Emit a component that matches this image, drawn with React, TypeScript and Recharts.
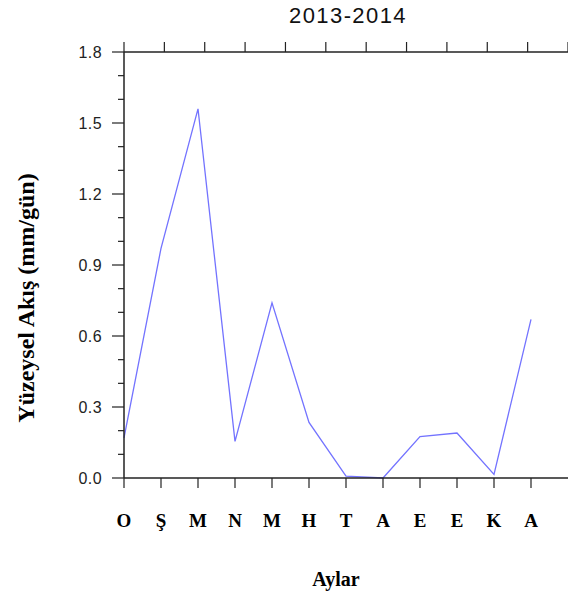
import { Label, Line, LineChart, XAxis, YAxis } from 'recharts';

// months Ekim..Eylül (2013-2014 water year)
const months = ['O', 'Ş', 'M', 'N', 'M', 'H', 'T', 'A', 'E', 'E', 'K', 'A'];
const runoff = [0.17, 0.97, 1.56, 0.155, 0.74, 0.235, 0.008, 0.0, 0.175, 0.19, 0.015, 0.67];
const monthTicks = [0, 1, 2, 3, 4, 5, 6, 7, 8, 9, 10, 11];
const yTicks = [0, 0.1, 0.2, 0.3, 0.4, 0.5, 0.6, 0.7, 0.8, 0.9, 1.0, 1.1, 1.2, 1.3, 1.4, 1.5, 1.6, 1.7, 1.8];

const AXIS = '#222';
const SANS = '"Liberation Sans", Arial, sans-serif';
const SERIF = '"Liberation Serif", "Times New Roman", serif';

const data = months.map((m, i) => ({ i, m, v: runoff[i] }));

function LeftTick({ x, y, payload }: any) {
  const v = payload.value as number;
  const major = Math.round(v * 10) % 3 === 0;
  return (
    <g>
      <line x1={x - (major ? 12 : 6)} x2={x} y1={y} y2={y} stroke={AXIS} strokeWidth={1.2} />
      {major && (
        <text x={x - 22} y={y} textAnchor="end" dominantBaseline="central" fontFamily={SANS} fontSize={16} letterSpacing={0.4} fill="#222">
          {v.toFixed(1)}
        </text>
      )}
    </g>
  );
}

function BottomTick({ x, y, payload }: any) {
  return (
    <g>
      <line x1={x} x2={x} y1={y} y2={y + 10} stroke={AXIS} strokeWidth={1.2} />
      <text x={x} y={y + 49} textAnchor="middle" fontFamily={SERIF} fontWeight="bold" fontSize={19} fill="#000">
        {months[payload.value]}
      </text>
    </g>
  );
}

function TopTick({ x, y }: any) {
  return <line x1={x} x2={x} y1={y} y2={y - 10} stroke={AXIS} strokeWidth={1.2} />;
}

export default function App() {
  return (
    <div style={{ position: 'absolute', left: 0, top: 0, background: '#fff' }}>
      <LineChart width={568} height={599} data={data} margin={{ top: 0, right: 0, bottom: 0, left: 0 }}>
        <XAxis
          dataKey="i"
          type="number"
          domain={[0, 12]}
          ticks={monthTicks}
          height={121}
          tickSize={0}
          tickMargin={0}
          tickLine={false}
          axisLine={{ stroke: AXIS, strokeWidth: 1.5 }}
          tick={<BottomTick />}
          interval={0}
        >
          <Label
            content={() => (
              <text x={336} y={586} textAnchor="middle" fontFamily={SERIF} fontWeight="bold" fontSize={20} fill="#000">
                Aylar
              </text>
            )}
          />
        </XAxis>
        <XAxis
          xAxisId="top"
          orientation="top"
          type="number"
          domain={[0, 12]}
          ticks={monthTicks}
          height={52}
          tickSize={0}
          tickMargin={0}
          tickLine={false}
          axisLine={{ stroke: AXIS, strokeWidth: 1.5 }}
          tick={<TopTick />}
          interval={0}
        >
          <Label
            content={() => (
              <text x={348} y={23} textAnchor="middle" fontFamily={SANS} fontSize={22} letterSpacing={1.4} fill="#111">
                2013-2014
              </text>
            )}
          />
        </XAxis>
        <YAxis
          type="number"
          domain={[0, 1.8]}
          ticks={yTicks}
          width={124}
          tickSize={0}
          tickMargin={0}
          tickLine={false}
          axisLine={{ stroke: AXIS, strokeWidth: 1.5 }}
          tick={<LeftTick />}
          interval={0}
        >
          <Label
            content={() => (
              <text
                x={26}
                y={298}
                transform="rotate(-90 26 298)"
                textAnchor="middle"
                dominantBaseline="central"
                fontFamily={SERIF}
                fontWeight="bold"
                fontSize={24}
                fill="#000"
              >
                Yüzeysel Akış (mm/gün)
              </text>
            )}
          />
        </YAxis>
        <Line
          type="linear"
          dataKey="v"
          stroke="#7373ff"
          strokeWidth={1.3}
          dot={false}
          activeDot={false}
          isAnimationActive={false}
        />
      </LineChart>
    </div>
  );
}
